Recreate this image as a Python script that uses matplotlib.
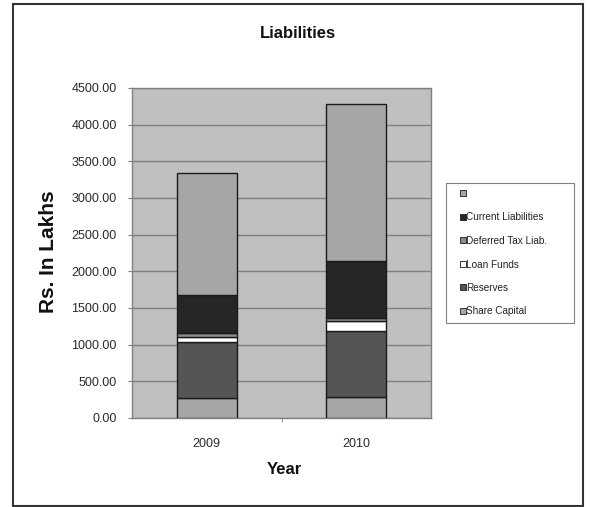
import matplotlib
matplotlib.use("Agg")
import matplotlib.pyplot as plt
from matplotlib.patches import Patch, Rectangle
import numpy as np

plt.rcParams['font.family'] = ['Liberation Sans', 'DejaVu Sans']

years = ["2009", "2010"]
share_capital = [278, 280]
reserves = [765, 910]
loan_funds = [60, 130]
deferred_tax = [55, 50]
current_liab = [518, 767]
other = [1665, 2141]

series = [
    ("Share Capital", share_capital, "#a6a6a6"),
    ("Reserves", reserves, "#555555"),
    ("Loan Funds", loan_funds, "#ffffff"),
    ("Deferred Tax Liab.", deferred_tax, "#8c8c8c"),
    ("Current Liabilities", current_liab, "#262626"),
    ("", other, "#a6a6a6"),
]

W, H = 590, 507
fig = plt.figure(figsize=(W / 100, H / 100), dpi=100)
fig.patch.set_facecolor("white")

# outer chart border
fig.patches.append(Rectangle((13 / W, 1 - 506 / H), 570 / W, 502 / H,
                             transform=fig.transFigure, fill=False,
                             edgecolor="#333333", linewidth=1.5))

ax = fig.add_axes([132 / W, 1 - 418 / H, 299 / W, 330 / H])
ax.set_facecolor("#c0c0c0")

x = np.arange(len(years))
bottom = np.zeros(len(years))
for name, vals, col in series:
    ax.bar(x, vals, width=0.4, bottom=bottom, color=col, edgecolor="#1a1a1a",
           linewidth=1.0, zorder=3)
    bottom += np.array(vals)

ax.set_xlim(-0.5, 1.5)
ax.set_ylim(0, 4500)
yt = np.arange(0, 4501, 500)
ax.set_yticks(yt)
ax.set_yticklabels([f"{v:.2f}" for v in yt])
ax.set_xticks(x)
ax.set_xticklabels(years)
ax.yaxis.grid(True, color="#808080", linewidth=1.0, zorder=1)
ax.set_axisbelow(True)
for s in ax.spines.values():
    s.set_color("#808080")
    s.set_linewidth(1.0)
ax.tick_params(axis="y", length=3, width=0.8, color="#808080", labelsize=9,
               labelcolor="#2a2a2a", pad=8)
ax.tick_params(axis="x", length=0, labelsize=9, labelcolor="#2a2a2a", pad=14.5)
ax.set_xticks([0.5], minor=True)
ax.tick_params(axis="x", which="minor", length=3, color="#808080")

fig.text(298 / W, 1 - 33 / H, "Liabilities", fontsize=12, fontweight="bold",
         ha="center", va="center", color="#111111")
fig.text(48 / W, 1 - 252 / H, "Rs. In Lakhs", fontsize=15, fontweight="bold",
         ha="center", va="center", rotation=90, color="#111111")
fig.text(284 / W, 1 - 470 / H, "Year", fontsize=12, fontweight="bold",
         ha="center", va="center", color="#111111")

# legend box
fig.patches.append(Rectangle((446 / W, 1 - 323 / H), 128 / W, 140 / H,
                             transform=fig.transFigure, facecolor="white",
                             edgecolor="#808080", linewidth=0.8, zorder=1))

handles = [Patch(facecolor=col, edgecolor="#1a1a1a", linewidth=0.6)
           for name, vals, col in series][::-1]
labels = [name for name, vals, col in series][::-1]
leg = fig.legend(handles, labels, loc="upper left",
                 bbox_to_anchor=(460 / W, 1 - 189 / H),
                 fontsize=7.2, handlelength=0.55, handleheight=0.55,
                 handletextpad=0.1, labelspacing=1.35, borderpad=0,
                 frameon=False, borderaxespad=0)
leg.set_zorder(5)
for t in leg.get_texts():
    t.set_color("#222222")

fig.savefig("out.png", dpi=100)
